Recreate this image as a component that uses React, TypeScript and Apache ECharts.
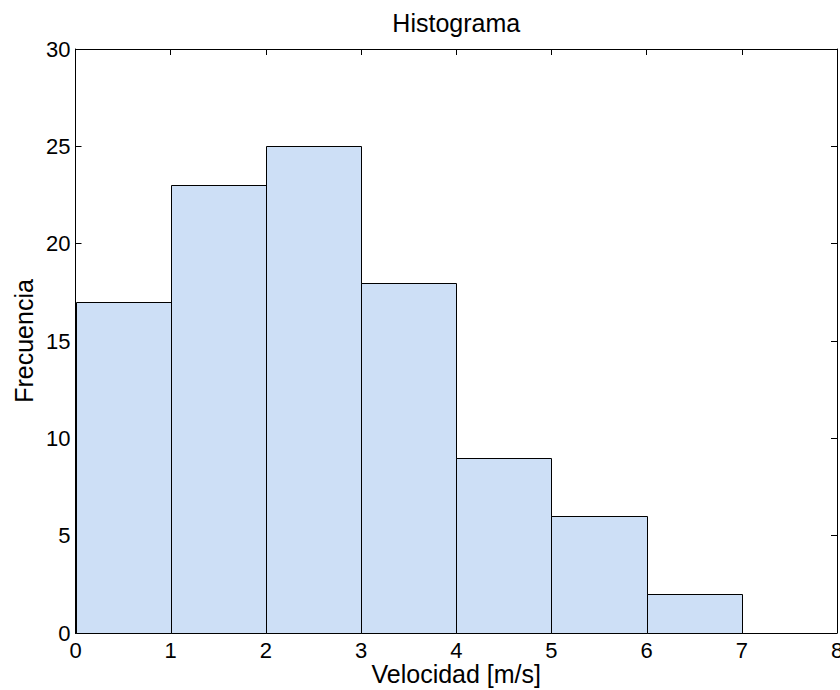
import React, { useEffect, useRef } from "react";
import * as echarts from "echarts";

const binStarts = [0, 1, 2, 3, 4, 5, 6, 7];
const binEnds = [1, 2, 3, 4, 5, 6, 7, 8];
const frequencies = [17, 23, 25, 18, 9, 6, 2, 0];
const xTicks = [0, 1, 2, 3, 4, 5, 6, 7, 8];
const yTicks = [0, 5, 10, 15, 20, 25, 30];

const titleText = "Histograma";
const xName = "Velocidad [m/s]";
const yName = "Frecuencia";

const FONT = "'Liberation Sans', Arial, Helvetica, sans-serif";
const FILL = "#cddff6";

export default function App() {
  const ref = useRef<HTMLDivElement>(null);

  useEffect(() => {
    if (!ref.current) return;
    const chart = echarts.init(ref.current, undefined, { renderer: "svg" });
    const data = binStarts.map((s, i) => [s, binEnds[i], frequencies[i]]);
    const GRID = { left: 75.5, right: 3, top: 49, bottom: 57 };
    const plotCx = GRID.left + (840 - GRID.left - GRID.right) / 2;
    const plotCy = GRID.top + (690 - GRID.top - GRID.bottom) / 2;

    const axisCommon = {
      type: "value" as const,
      axisLine: { show: true, onZero: false, lineStyle: { color: "#000", width: 1 } },
      axisTick: { show: true, inside: true, length: 6, lineStyle: { color: "#000", width: 1 } },
      splitLine: { show: false },
    };

    chart.setOption({
      animation: false,
      backgroundColor: "#fff",
      textStyle: { fontFamily: FONT },
      grid: { ...GRID, containLabel: false, outerBoundsMode: "none" },
      xAxis: [
        {
          ...axisCommon,
          position: "bottom",
          min: xTicks[0],
          max: xTicks[xTicks.length - 1],
          interval: 1,
          axisLabel: {
            show: true,
            color: "#000",
            fontSize: 22,
            lineHeight: 20,
            fontFamily: FONT,
            margin: 7,
            hideOverlap: false,
          },
        },
        {
          ...axisCommon,
          position: "top",
          min: xTicks[0],
          max: xTicks[xTicks.length - 1],
          interval: 1,
          axisLabel: { show: false },
        },
      ],
      yAxis: [
        {
          ...axisCommon,
          position: "left",
          min: yTicks[0],
          max: yTicks[yTicks.length - 1],
          interval: 5,
          axisLabel: { show: true, color: "#000", fontSize: 22, fontFamily: FONT, margin: 5 },
        },
        {
          ...axisCommon,
          position: "right",
          min: yTicks[0],
          max: yTicks[yTicks.length - 1],
          interval: 5,
          axisLabel: { show: false },
        },
      ],
      graphic: [
        {
          type: "text",
          x: plotCx,
          y: 23,
          style: {
            text: titleText,
            fontSize: 25,
            fontFamily: FONT,
            fill: "#000",
            align: "center",
            verticalAlign: "middle",
          },
        },
        {
          type: "text",
          x: plotCx,
          y: 674,
          style: {
            text: xName,
            fontSize: 25,
            lineHeight: 22,
            fontFamily: FONT,
            fill: "#000",
            align: "center",
            verticalAlign: "middle",
          },
        },
        {
          type: "text",
          x: 24,
          y: plotCy,
          rotation: Math.PI / 2,
          style: {
            text: yName,
            fontSize: 25,
            fontFamily: FONT,
            fill: "#000",
            align: "center",
            verticalAlign: "middle",
          },
        },
      ],
      series: [
        {
          type: "custom",
          xAxisIndex: 0,
          yAxisIndex: 0,
          data,
          encode: { x: [0, 1], y: 2 },
          renderItem: (params: any, api: any) => {
            const v = api.value(2);
            if (!v) return null;
            const p0 = api.coord([api.value(0), v]);
            const p1 = api.coord([api.value(1), 0]);
            return {
              type: "rect",
              shape: {
                x: Math.round(p0[0]) + 0.5,
                y: Math.round(p0[1]) + 0.5,
                width: Math.round(p1[0]) - Math.round(p0[0]),
                height: Math.round(p1[1]) - Math.round(p0[1]),
              },
              style: { fill: FILL, stroke: "#000", lineWidth: 1 },
            };
          },
          z: 1,
        },
      ],
    });
    return () => chart.dispose();
  }, []);

  return (
    <div
      ref={ref}
      style={{ position: "fixed", left: 0, top: 0, width: 840, height: 690, background: "#fff" }}
    />
  );
}
